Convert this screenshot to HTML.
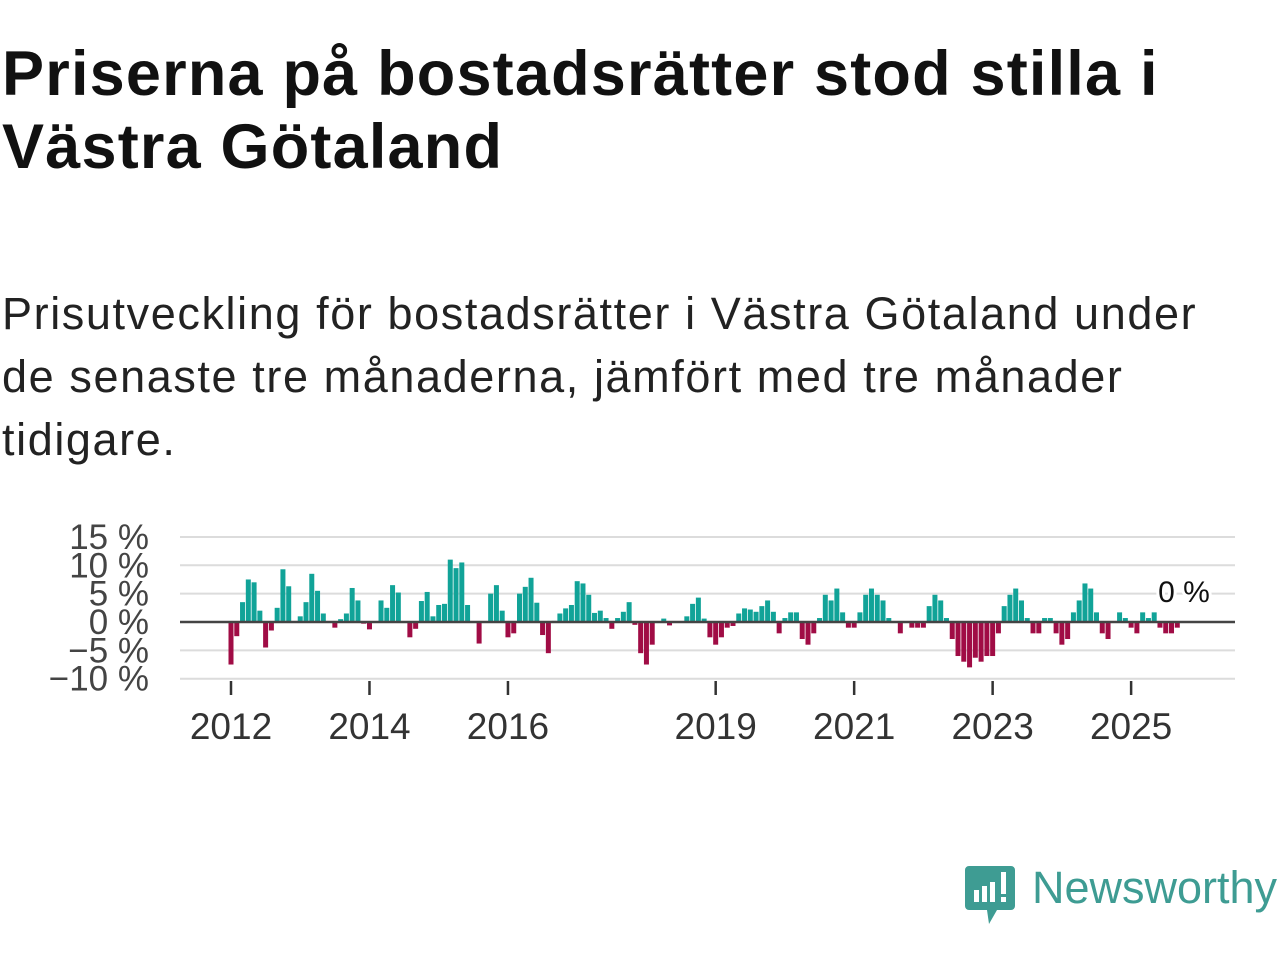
<!DOCTYPE html>
<html><head><meta charset="utf-8">
<style>
body{margin:0;background:#fff;width:1280px;height:960px;overflow:hidden;font-family:"Liberation Sans",sans-serif;}
h1{position:absolute;left:2px;top:38px;margin:0;font-size:63px;line-height:73px;font-weight:bold;color:#111;width:1278px;letter-spacing:1.2px;white-space:nowrap;}
p.sub{position:absolute;left:2px;top:282px;margin:0;font-size:45px;line-height:63px;color:#222;width:1278px;letter-spacing:1.6px;white-space:nowrap;}
svg{position:absolute;left:0;top:0;}
</style></head><body>
<h1>Priserna på bostadsrätter stod stilla i<br>Västra Götaland</h1>
<p class="sub">Prisutveckling för bostadsrätter i Västra Götaland under<br>de senaste tre månaderna, jämfört med tre månader<br>tidigare.</p>
<svg id="chart" width="1280" height="960"></svg>
<div style="position:absolute;left:965px;top:866px;">
<svg width="52" height="60" viewBox="0 0 52 60" style="position:absolute;left:0;top:0"><path d="M4 0H46a4 4 0 0 1 4 4V40a4 4 0 0 1-4 4H32L24 58L22 44H4a4 4 0 0 1-4-4V4a4 4 0 0 1 4-4z" fill="#3e9c93"/><rect x="9" y="24" width="5" height="12" fill="#fff"/><rect x="17" y="20" width="5" height="16" fill="#fff"/><rect x="25" y="16" width="5" height="20" fill="#fff"/><rect x="36" y="6" width="5" height="22" fill="#fff"/><rect x="36" y="31" width="5" height="5" fill="#fff"/></svg>
<span style="position:absolute;left:67px;top:-4px;font-size:45px;color:#3e9c93;white-space:nowrap;">Newsworthy</span>
</div>
<script>
const years = [2012,2014,2016,2019,2021,2023,2025];
const yTicks = [15,10,5,0,-5,-10];
const startYear = 2012;
const values = [
-7.5,-2.5,3.5,7.5,7,2,-4.5,-1.5,2.5,9.3,6.3,0,
1,3.5,8.5,5.5,1.5,0,-1,0.5,1.5,6,3.8,-0.3,
-1.3,0,3.8,2.5,6.5,5.2,0,-2.7,-1.2,3.7,5.3,1,
3,3.2,11,9.5,10.5,3,0,-3.8,0,5,6.5,2,
-2.7,-2,5,6.2,7.8,3.4,-2.3,-5.5,0.2,1.5,2.4,3,
7.2,6.8,4.8,1.6,2,0.7,-1.2,0.7,1.8,3.5,-0.5,-5.5,
-7.5,-4,0,0.6,-0.6,0,0,1,3.2,4.3,0.6,-2.7,
-4,-2.7,-1,-0.7,1.5,2.4,2.2,1.8,2.8,3.8,1.8,-2,
0.7,1.7,1.7,-3,-4,-2,0.7,4.8,3.8,5.9,1.7,-1,
-1,1.7,4.8,5.9,4.8,3.8,0.7,0,-2,0,-1,-1,
-1,2.8,4.8,3.8,0.7,-3,-6,-7,-8,-6.3,-7,-6,
-6,-2,2.8,4.8,5.9,3.8,0.7,-2,-2,0.7,0.7,-2,
-4,-3,1.7,3.8,6.8,5.9,1.7,-2,-3,0,1.7,0.7,
-1,-2,1.7,0.7,1.7,-1,-2,-2,-1
];
const NS="http://www.w3.org/2000/svg";
const svg=document.getElementById('chart');
const x0=231, step=5.77, xL=180, xR=1235;
const y=v=>622-v*5.67;
const xi=i=>x0+i*step;
function mk(t,a){const e=document.createElementNS(NS,t);for(const k in a)e.setAttribute(k,a[k]);svg.appendChild(e);return e;}
yTicks.forEach(t=>{
  if(t!==0){const g=mk('line',{x1:xL,x2:xR,y1:y(t),y2:y(t),stroke:'#dcdcdc','stroke-width':2});
  
  }
  const l=mk('text',{x:149,y:y(t)+12,'text-anchor':'end','font-size':35,fill:'#444','font-family':'Liberation Sans, sans-serif'});
  l.textContent=(t<0?'\u2212'+(-t):t)+' %';
  
  
});
values.forEach((v,i)=>{
  const r=mk('rect',{x:xi(i)-2.5,width:5,y:Math.min(y(v),y(0)),height:Math.abs(y(v)-y(0)),fill:v>=0?'#11a398':'#a00c45'});
  
  
});
const z=mk('line',{x1:xL,x2:xR,y1:y(0),y2:y(0),stroke:'#444','stroke-width':2.5});


years.forEach(yr=>{
  const cx=xi((yr-startYear)*12);
  const t=mk('line',{x1:cx,x2:cx,y1:681,y2:695,stroke:'#333','stroke-width':2.5});
  
  
  const l=mk('text',{x:cx,y:739,'text-anchor':'middle','font-size':37,fill:'#333','font-family':'Liberation Sans, sans-serif'});
  l.textContent=yr;
  
  
});
const a=mk('text',{x:1184,y:602,'text-anchor':'middle','font-size':30,fill:'#111',stroke:'#fff','stroke-width':6,'paint-order':'stroke','font-family':'Liberation Sans, sans-serif'});
a.textContent='0 %';


</script>
</body></html>
